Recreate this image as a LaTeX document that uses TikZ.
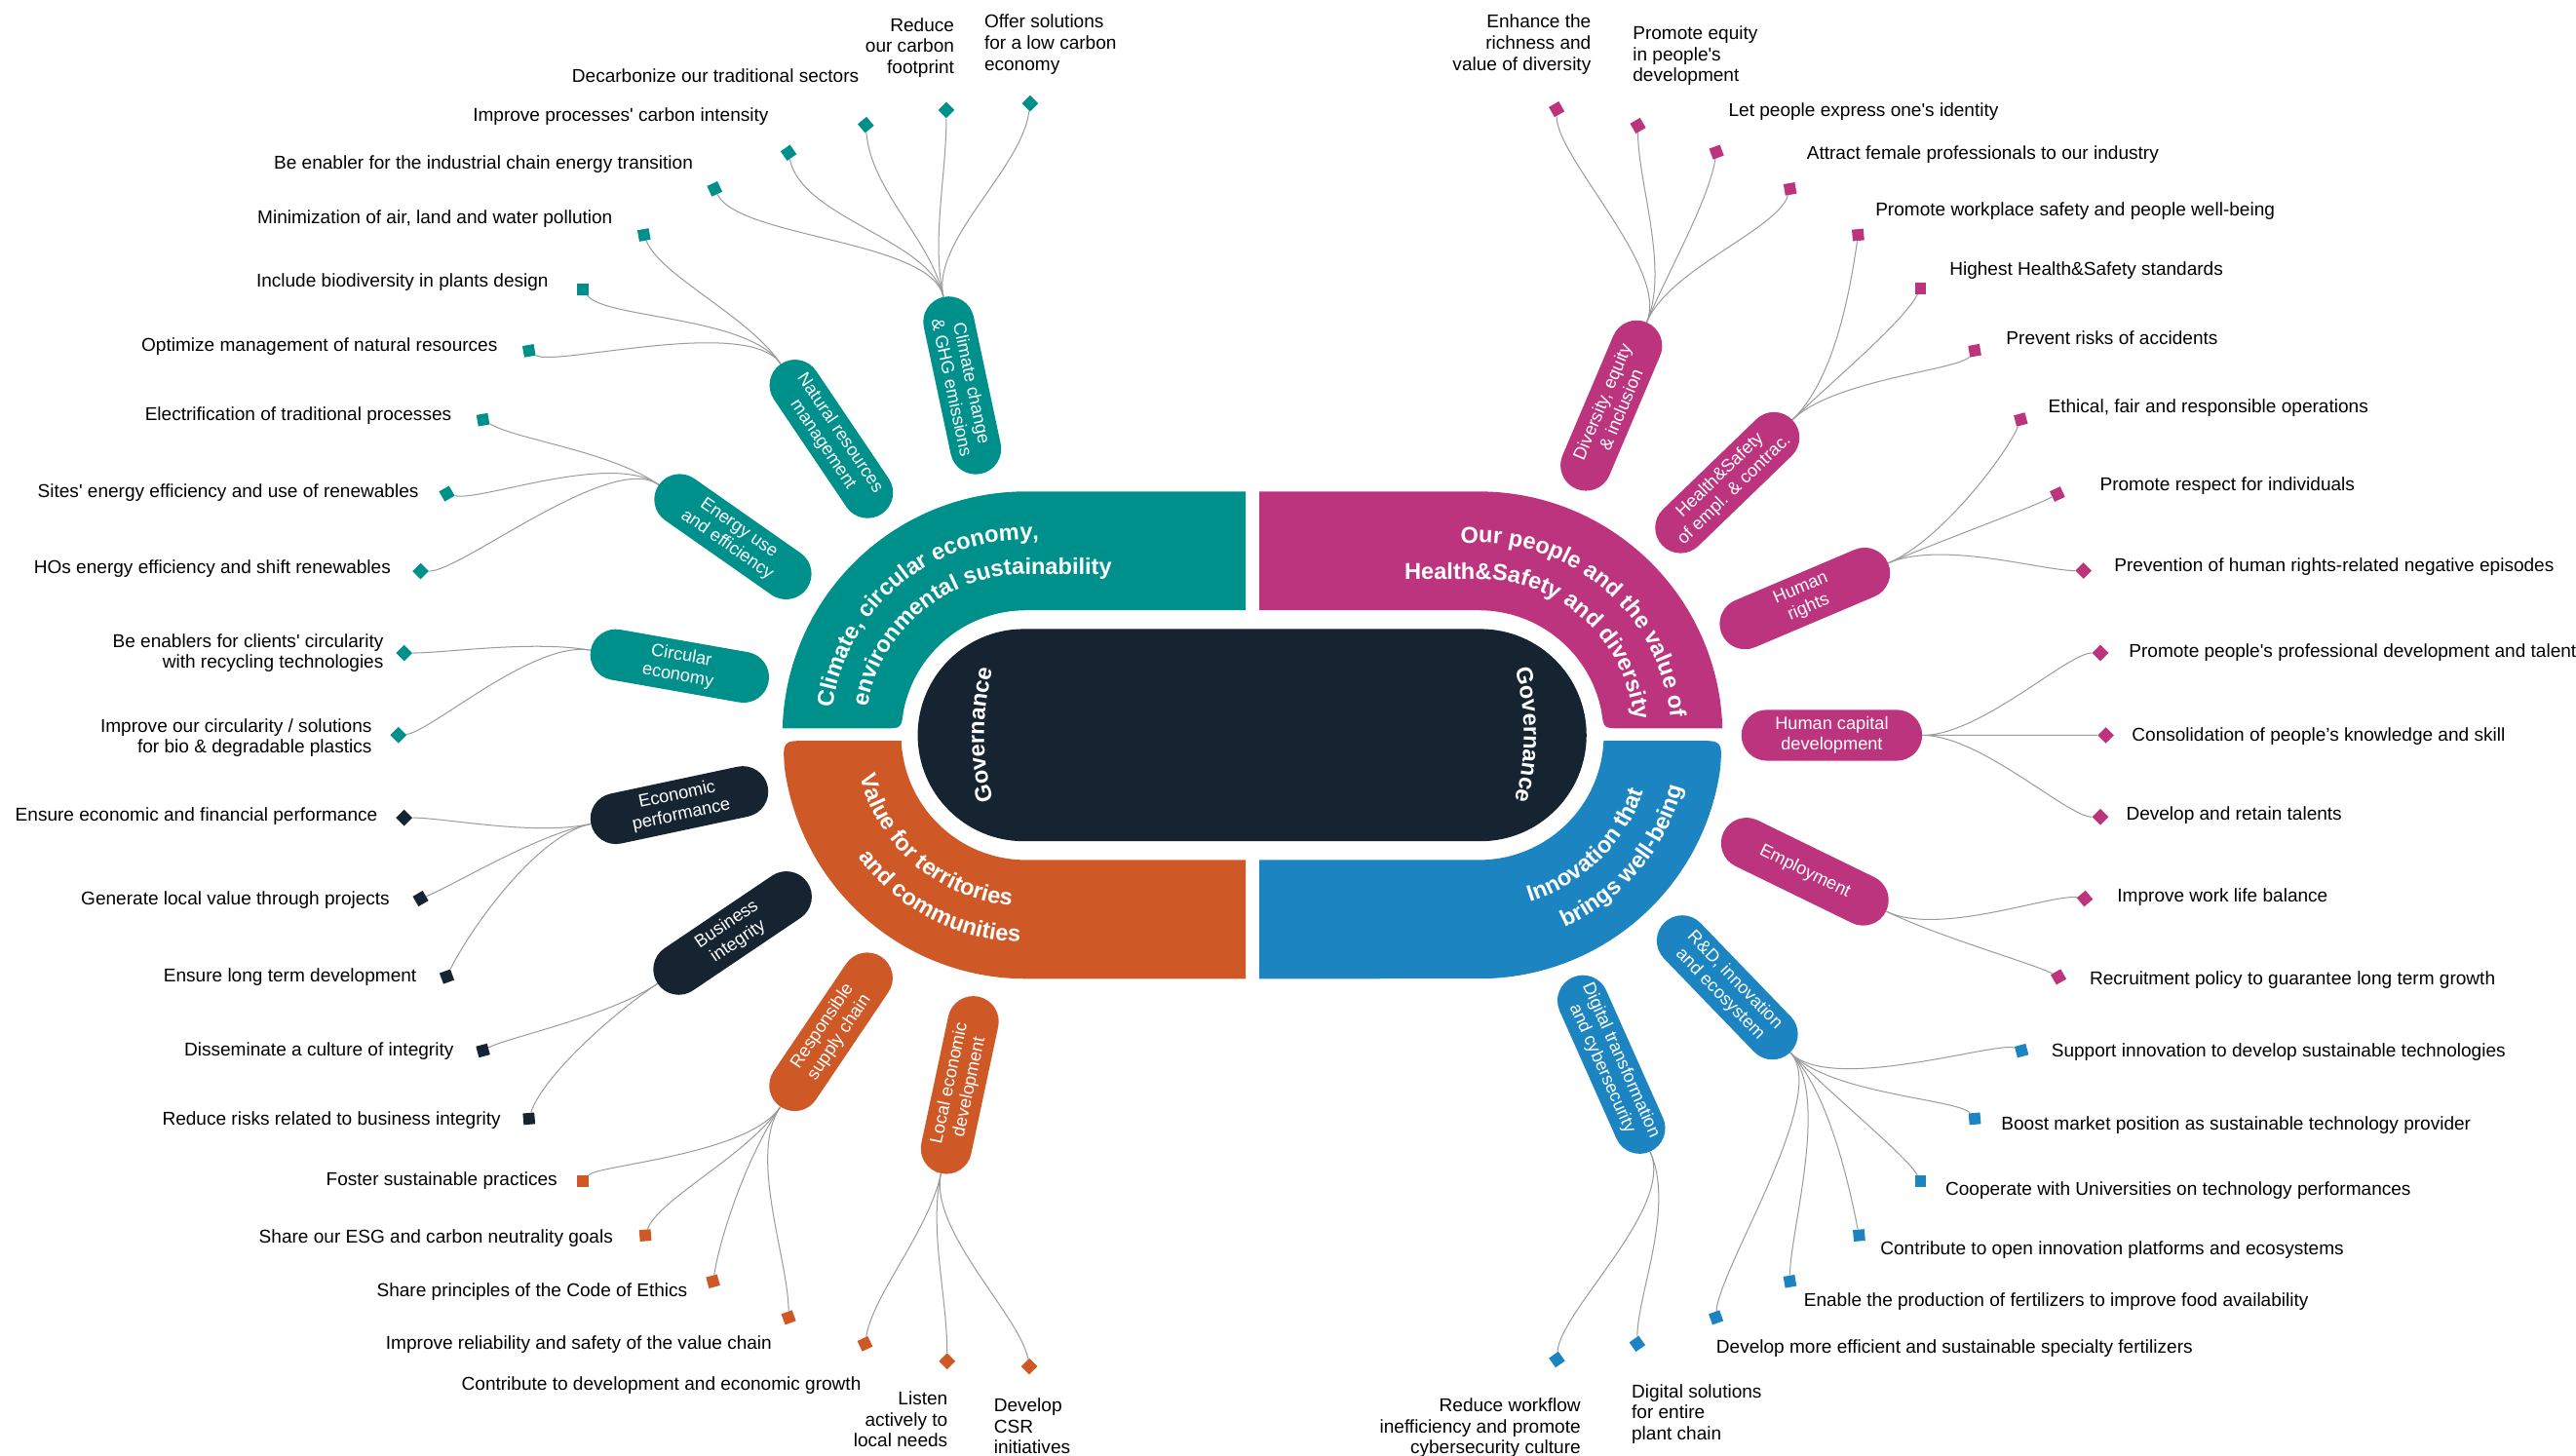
\documentclass[tikz,border=0pt]{standalone}
\usepackage{fontspec}
\setmainfont{Liberation Sans}[Ligatures=TeXOff]
\usetikzlibrary{calc,decorations.text}

\definecolor{teal1}{RGB}{0,144,140}
\definecolor{plum1}{RGB}{189,52,126}
\definecolor{rust1}{RGB}{207,88,39}
\definecolor{sky1}{RGB}{28,132,192}
\definecolor{ink1}{RGB}{22,36,50}
\definecolor{twig1}{RGB}{155,155,155}

\newcommand\leaffont{\fontsize{11.3}{12.8}\selectfont}
\newcommand\pillfont{\fontsize{10.8}{12.4}\selectfont}
\newcommand\titlefont{\fontsize{14}{16}\selectfont\bfseries}

\pgfdeclarelayer{back}
\pgfsetlayers{back,main}

\tikzset{
  pill/.style={rectangle, rounded corners=15.5, fill=#1, text=white, font=\pillfont,
    align=center, minimum height=31, minimum width=110, inner xsep=7, inner ysep=1},
  dot/.style={rectangle, fill=#1, minimum size=7, inner sep=0},
  leaf/.style={font=\leaffont, inner sep=0},
  twig/.style={draw=twig1, line width=0.6},
  ring/.style={decorate, decoration={text along path, text={|\titlefont\color{white}|#1}}},
}

% topic pill: name, x, y, angle, colour, outer anchor, inner anchor, text
\newcommand\topic[8]{%
  \node[pill=#5, rotate=#4] (#1) at (#2,#3) {#8};
  \path (#1.#6) coordinate (#1-s);
  \path ($(#1.#6)!-0.32!(#1.#7)$) coordinate (#1-c);
}
% goal: topic, index, marker, marker angle, bend, colour, text options, text place, text
\newcommand\goal[9]{%
  \node[dot=#6, rotate=#4] (#1#2) at (#3) {};
  \node[leaf, #7] (t#1#2) at (#8) {#9};
  \begin{pgfonlayer}{back}
    \draw[twig] (#1-s) .. controls (#1-c) and ($(#1#2)+(#5)$) .. (#1#2);
  \end{pgfonlayer}
}

\begin{document}
\begin{tikzpicture}[x=1pt,y=-1pt]
  \useasboundingbox (0,0) rectangle (1568,886);

  % governance core
  \fill[ink1] (623.2,382.9) -- (901.1,382.9) arc[start angle=270,end angle=450,radius=64.6]
    -- (623.2,512.1) arc[start angle=90,end angle=270,radius=64.6] -- cycle;

  % the four themes
  \fill[teal1] (476.3,443.4) arc[start angle=181.58,end angle=270,radius=148.3] -- (758.2,299.2)
    -- (758.2,371.5) -- (624.5,371.5) arc[start angle=270,end angle=191,radius=76]
    .. controls (548.6,443.4) .. (538,443.4) -- cycle;
  \fill[plum1] (766.5,299.2) -- (900.2,299.2) arc[start angle=270,end angle=358.42,radius=148.3]
    -- (987,443.4) .. controls (976.1,443.4) .. (974.8,433) arc[start angle=349,end angle=270,radius=76]
    -- (766.5,371.5) -- cycle;
  \fill[rust1] (548.6,450.9) arc[start angle=177.44,end angle=90,radius=76] -- (758.2,523.5)
    -- (758.2,595.8) -- (624.5,595.8) arc[start angle=90,end angle=172,radius=148.3]
    .. controls (476.3,450.9) .. (492,450.9) -- cycle;
  \fill[sky1] (766.5,523.5) -- (900.2,523.5) arc[start angle=90,end angle=2.56,radius=76]
    -- (1033,450.9) .. controls (1048.4,450.9) .. (1047.1,468.1)
    arc[start angle=8,end angle=90,radius=148.3] -- (766.5,595.8) -- cycle;

  \path[ring={Climate, circular economy,}] (506.7,430.9) arc[start angle=188,end angle=270,radius=119] -- (780,328.5);
  \path[ring={environmental sustainability}] (528,430.5) arc[start angle=190,end angle=270,radius=98] -- (780,349.5);
  \path[ring={Our people and the value of}] (889,330.5) -- (900.2,330.5) arc[start angle=270,end angle=375,radius=117];
  \path[ring={Health{\&}Safety and diversity}] (855,352.5) -- (900.2,352.5) arc[start angle=270,end angle=375,radius=95];
  \path[ring={Value for territories}] (523.6,472.7) arc[start angle=166,end angle=90,radius=104] -- (760,551.5);
  \path[ring={and communities}] (522.6,521.6) arc[start angle=144,end angle=90,radius=126] -- (760,573.5);
  \path[ring={Innovation that}] (931.2,548.9) arc[start angle=73,end angle=-15,radius=106];
  \path[ring={brings well-being}] (952.3,564.4) arc[start angle=66,end angle=-15,radius=128];
  \path[ring={Governance}, decoration={text align=center}] (608.1,498.8) arc[start angle=160,end angle=200,radius=150];
  \path[ring={Governance}, decoration={text align=center}] (918.5,396.2) arc[start angle=-20,end angle=20,radius=150];

  % topics
  \topic{cc}{585.7}{234.6}{-78}{teal1}{west}{east}{Climate change\\\& GHG emissions}
  \topic{nr}{506}{267.2}{-56}{teal1}{west}{east}{Natural resources\\management}
  \topic{eu}{446.1}{326.7}{-35}{teal1}{west}{east}{Energy use\\and efficiency}
  \topic{ce}{413.7}{405.4}{-10}{teal1}{west}{east}{Circular\\economy}
  \topic{ep}{413.5}{490.1}{12}{ink1}{west}{east}{Economic\\performance}
  \topic{bi}{445.9}{568}{34}{ink1}{west}{east}{Business\\integrity}
  \topic{rs}{505.8}{628.1}{56}{rust1}{west}{east}{Responsible\\supply chain}
  \topic{le}{584.2}{660.5}{78}{rust1}{west}{east}{Local economic\\development}
  \topic{de}{980.8}{246.9}{67}{plum1}{east}{west}{Diversity, equity\\\& inclusion}
  \topic{hs}{1051.4}{293.8}{44}{plum1}{east}{west}{Health\&Safety\\of empl. \& contrac.}
  \topic{hr}{1098.6}{364.3}{23}{plum1}{east}{west}{Human\\rights}
  \topic{hc}{1115}{447.6}{0}{plum1}{east}{west}{Human capital\\development}
  \topic{em}{1098.6}{530.6}{-26}{plum1}{east}{west}{Employment}
  \topic{rd}{1051.4}{601.1}{-46}{sky1}{east}{west}{R\&D, innovation\\and ecosystem}
  \topic{dt}{980.8}{648}{-66}{sky1}{east}{west}{Digital transformation\\and cybersecurity}

  % goals
  \goal{cc}{1}{627,63}{45}{-5,40}{teal1}{anchor=north west, align=left}{599,8.8}{Offer solutions\\for a low carbon\\economy}
  \goal{cc}{2}{576,67}{45}{0,40}{teal1}{anchor=north east, align=right}{581,10.8}{Reduce\\our carbon\\footprint}
  \goal{cc}{3}{527,76}{40}{3,40}{teal1}{anchor=east}{523,46}{Decarbonize our traditional sectors}
  \goal{cc}{4}{480,93}{35}{8,40}{teal1}{anchor=east}{468,71}{Improve processes' carbon intensity}
  \goal{cc}{5}{435,115}{25}{15,30}{teal1}{anchor=east}{422,100}{Be enabler for the industrial chain energy transition}
  \goal{nr}{1}{392,143}{10}{10,25}{teal1}{anchor=east}{373,133}{Minimization of air, land and water pollution}
  \goal{nr}{2}{355,176}{0}{12,18}{teal1}{anchor=east}{334,172}{Include biodiversity in plants design}
  \goal{nr}{3}{322,213.5}{10}{15,10}{teal1}{anchor=east}{303,211}{Optimize management of natural resources}
  \goal{eu}{1}{294,255.5}{10}{20,12}{teal1}{anchor=east}{275,253}{Electrification of traditional processes}
  \goal{eu}{2}{272,300.5}{30}{20,5}{teal1}{anchor=east}{255,300}{Sites' energy efficiency and use of renewables}
  \goal{eu}{3}{256,347.7}{45}{25,0}{teal1}{anchor=east}{238,346.5}{HOs energy efficiency and shift renewables}
  \goal{ce}{1}{246,397.5}{45}{25,0}{teal1}{anchor=north east, align=right}{233.6,385.6}{Be enablers for clients' circularity\\with recycling technologies}
  \goal{ce}{2}{242.5,447.5}{45}{20,-2}{teal1}{anchor=north east, align=right}{226.5,437.2}{Improve our circularity / solutions\\for bio \& degradable plastics}
  \goal{ep}{1}{246,497.8}{45}{25,0}{ink1}{anchor=east}{230,497}{Ensure economic and financial performance}
  \goal{ep}{2}{256,547}{30}{20,-8}{ink1}{anchor=east}{237.4,548}{Generate local value through projects}
  \goal{ep}{3}{272,594.5}{20}{12,-25}{ink1}{anchor=east}{253.7,594.5}{Ensure long term development}
  \goal{bi}{1}{294,639.5}{15}{15,-8}{ink1}{anchor=east}{276.3,640}{Disseminate a culture of integrity}
  \goal{bi}{2}{322,681}{5}{8,-25}{ink1}{anchor=east}{305,682}{Reduce risks related to business integrity}
  \goal{rs}{1}{354.6,719}{0}{10,-10}{rust1}{anchor=east}{339.4,718.5}{Foster sustainable practices}
  \goal{rs}{2}{392.8,752}{5}{8,-22}{rust1}{anchor=east}{373.3,754}{Share our ESG and carbon neutrality goals}
  \goal{rs}{3}{434,780}{15}{5,-30}{rust1}{anchor=east}{418.6,786.5}{Share principles of the Code of Ethics}
  \goal{rs}{4}{480,802}{20}{0,-35}{rust1}{anchor=east}{470,818.7}{Improve reliability and safety of the value chain}
  \goal{le}{1}{526.5,818}{25}{5,-30}{rust1}{anchor=east}{524.3,843.4}{Contribute to development and economic growth}
  \goal{le}{2}{576.5,828.6}{45}{0,-40}{rust1}{anchor=north east, align=right}{577,846.8}{Listen\\actively to\\local needs}
  \goal{le}{3}{626.5,831.8}{45}{-5,-30}{rust1}{anchor=north west, align=left}{604.8,851.1}{Develop\\CSR\\initiatives}
  \goal{de}{1}{947.5,66.5}{30}{0,30}{plum1}{anchor=north east, align=right}{968.6,8.8}{Enhance the\\richness and\\value of diversity}
  \goal{de}{2}{997,76.5}{30}{0,35}{plum1}{anchor=north west, align=left}{993.7,15.6}{Promote equity\\in people's\\development}
  \goal{de}{3}{1044.8,92.6}{20}{-5,30}{plum1}{anchor=west}{1052,68}{Let people express one's identity}
  \goal{de}{4}{1089.6,115}{10}{-8,25}{plum1}{anchor=west}{1099.6,94.2}{Attract female professionals to our industry}
  \goal{hs}{1}{1131,143}{5}{-5,35}{plum1}{anchor=west}{1141.4,128.3}{Promote workplace safety and people well-being}
  \goal{hs}{2}{1169,175.5}{0}{-10,20}{plum1}{anchor=west}{1186.5,164.8}{Highest Health\&Safety standards}
  \goal{hs}{3}{1202,213.4}{10}{-10,12}{plum1}{anchor=west}{1221,205.7}{Prevent risks of accidents}
  \goal{hr}{1}{1230,255.4}{15}{-8,20}{plum1}{anchor=west}{1246.6,248.6}{Ethical, fair and responsible operations}
  \goal{hr}{2}{1252.3,300.8}{25}{-15,8}{plum1}{anchor=west}{1278,295.6}{Promote respect for individuals}
  \goal{hr}{3}{1268.2,347.4}{45}{-25,0}{plum1}{anchor=west}{1286.8,345}{Prevention of human rights-related negative episodes}
  \goal{hc}{1}{1278.5,397.5}{45}{-20,0}{plum1}{anchor=west}{1295.7,397}{Promote people's professional development and talent}
  \goal{hc}{2}{1281.8,447.6}{45}{-30,0}{plum1}{anchor=west}{1297.5,448}{Consolidation of people’s knowledge and skill}
  \goal{hc}{3}{1278.5,497.3}{45}{-20,0}{plum1}{anchor=west}{1294,496.6}{Develop and retain talents}
  \goal{em}{1}{1269,547}{40}{-20,-3}{plum1}{anchor=west}{1288.6,546.4}{Improve work life balance}
  \goal{em}{2}{1253,594.7}{30}{-15,-8}{plum1}{anchor=west}{1271.8,596.8}{Recruitment policy to guarantee long term growth}
  \goal{rd}{1}{1230.5,639.6}{15}{-15,-6}{sky1}{anchor=west}{1248.5,640.7}{Support innovation to develop sustainable technologies}
  \goal{rd}{2}{1202,681}{5}{-10,-12}{sky1}{anchor=west}{1218,685}{Boost market position as sustainable technology provider}
  \goal{rd}{3}{1169,719}{0}{-8,-15}{sky1}{anchor=west}{1184,724.8}{Cooperate with Universities on technology performances}
  \goal{rd}{4}{1131.6,752}{5}{-5,-25}{sky1}{anchor=west}{1144.4,761}{Contribute to open innovation platforms and ecosystems}
  \goal{rd}{5}{1089.5,780}{10}{0,-30}{sky1}{anchor=west}{1097.8,792.6}{Enable the production of fertilizers to improve food availability}
  \goal{rd}{6}{1044.5,802}{20}{2,-30}{sky1}{anchor=west}{1044.5,821}{Develop more efficient and sustainable specialty fertilizers}
  \goal{dt}{1}{947.7,827.6}{35}{2,-30}{sky1}{anchor=north east, align=right}{962.3,851.1}{Reduce workflow\\inefficiency and promote\\cybersecurity culture}
  \goal{dt}{2}{996.6,818}{35}{0,-30}{sky1}{anchor=north west, align=left}{993,842.4}{Digital solutions\\for entire\\plant chain}
\end{tikzpicture}
\end{document}
